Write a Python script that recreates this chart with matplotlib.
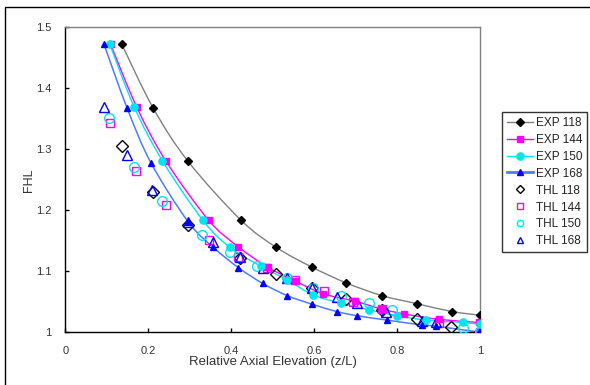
import numpy as np
import matplotlib.pyplot as plt
from matplotlib.path import Path
from matplotlib.patches import PathPatch, Rectangle
from matplotlib.lines import Line2D

plt.rcParams['font.family'] = ['Liberation Sans', 'DejaVu Sans']

# measured FHL data (EXP) and calculated (THL)
exp118_x = [0.136, 0.212, 0.296, 0.423, 0.509, 0.594, 0.677, 0.764, 0.847, 0.932, 1.0]
exp118_y = [1.472, 1.367, 1.280, 1.184, 1.139, 1.107, 1.081, 1.060, 1.047, 1.034, 1.028]

exp144_x = [0.109, 0.172, 0.242, 0.345, 0.417, 0.487, 0.554, 0.622, 0.698, 0.763, 0.817, 0.902, 0.998]
exp144_y = [1.472, 1.369, 1.281, 1.184, 1.140, 1.107, 1.084, 1.063, 1.051, 1.038, 1.030, 1.021, 1.016]

exp150_x = [0.107, 0.166, 0.234, 0.331, 0.397, 0.472, 0.534, 0.598, 0.664, 0.731, 0.800, 0.870, 0.960, 1.0]
exp150_y = [1.472, 1.369, 1.281, 1.184, 1.139, 1.108, 1.086, 1.061, 1.048, 1.037, 1.027, 1.020, 1.016, 1.013]

exp168_x = [0.093, 0.149, 0.206, 0.296, 0.357, 0.417, 0.476, 0.535, 0.595, 0.654, 0.704, 0.775, 0.859, 0.893, 1.0]
exp168_y = [1.472, 1.367, 1.278, 1.181, 1.139, 1.106, 1.080, 1.060, 1.046, 1.034, 1.027, 1.020, 1.012, 1.010, 1.0]

thl118_x = [0.136, 0.212, 0.296, 0.421, 0.509, 0.594, 0.676, 0.763, 0.847, 0.930, 1.0]
thl118_y = [1.306, 1.230, 1.176, 1.121, 1.096, 1.072, 1.055, 1.037, 1.021, 1.008, 1.001]

thl144_x = [0.107, 0.169, 0.242, 0.345, 0.417, 0.487, 0.554, 0.624, 0.693, 0.763, 0.900, 1.0]
thl144_y = [1.343, 1.264, 1.209, 1.152, 1.124, 1.105, 1.085, 1.067, 1.050, 1.038, 1.015, 1.001]

thl150_x = [0.105, 0.166, 0.232, 0.330, 0.397, 0.461, 0.534, 0.598, 0.664, 0.731, 0.787, 0.960, 1.0]
thl150_y = [1.351, 1.271, 1.216, 1.160, 1.131, 1.108, 1.089, 1.072, 1.060, 1.048, 1.037, 1.007, 1.001]

thl168_x = [0.094, 0.149, 0.209, 0.296, 0.357, 0.421, 0.476, 0.535, 0.595, 0.654, 0.703, 0.773, 0.859, 0.893, 1.0]
thl168_y = [1.369, 1.291, 1.233, 1.181, 1.148, 1.123, 1.105, 1.089, 1.073, 1.058, 1.048, 1.034, 1.019, 1.016, 1.001]


def smooth_path(xs, ys):
    # Excel style smoothed line: Catmull-Rom segments as cubic Beziers
    p = np.column_stack([xs, ys])
    verts = [p[0]]
    codes = [Path.MOVETO]
    n = len(p)
    for i in range(n - 1):
        p0 = p[i - 1] if i > 0 else p[i]
        p3 = p[i + 2] if i + 2 < n else p[i + 1]
        c1 = p[i] + (p[i + 1] - p0) / 6
        c2 = p[i + 1] - (p3 - p[i]) / 6
        verts += [c1, c2, p[i + 1]]
        codes += [Path.CURVE4] * 3
    return Path(verts, codes)


fig = plt.figure(figsize=(5.9, 3.85), dpi=100)
ax = fig.add_axes([0.111, 0.137, 0.7026, 0.792])

exp_series = [
    (exp118_x, exp118_y, 'EXP 118', '#808080', 'black', 'D', 4.5),
    (exp144_x, exp144_y, 'EXP 144', '#ff00ff', '#ff00ff', 's', 4.5),
    (exp150_x, exp150_y, 'EXP 150', '#00e5ee', '#00e5ee', 'o', 5.2),
    (exp168_x, exp168_y, 'EXP 168', '#4a7dff', '#0000ff', '^', 5),
]
thl_series = [
    (thl118_x, thl118_y, 'THL 118', 'black', 'D', 6.5),
    (thl144_x, thl144_y, 'THL 144', '#ff00ff', 's', 6),
    (thl150_x, thl150_y, 'THL 150', '#00e5ee', 'o', 7),
    (thl168_x, thl168_y, 'THL 168', '#0000ff', '^', 7),
]

handles = []
for xs, ys, lab, lc, mc, mk, ms in exp_series:
    ax.add_patch(PathPatch(smooth_path(xs, ys), facecolor='none', edgecolor=lc,
                           lw=1.0 if lc != '#4a7dff' else 1.1, zorder=2))
    ax.plot(xs, ys, linestyle='none', marker=mk, ms=ms, color=mc, mec=mc, zorder=4)
    handles.append(Line2D([], [], color=lc, lw=1.0 if lc != '#4a7dff' else 2.0,
                          marker=mk, ms=ms, mfc=mc, mec=mc, label=lab))

for xs, ys, lab, c, mk, ms in thl_series:
    ax.plot(xs, ys, linestyle='none', marker=mk, ms=ms, mfc='none', mec=c, mew=1.0, zorder=3)
    handles.append(Line2D([], [], linestyle='none', marker=mk, ms=4.5, mfc='none',
                          mec=c, mew=1.0, label=lab))

ax.set_xlim(0, 1)
ax.set_ylim(1, 1.5)
ax.set_xticks([0, 0.2, 0.4, 0.6, 0.8, 1])
ax.set_xticklabels(['0', '0.2', '0.4', '0.6', '0.8', '1'])
ax.set_yticks([1, 1.1, 1.2, 1.3, 1.4, 1.5])
ax.set_yticklabels(['1', '1.1', '1.2', '1.3', '1.4', '1.5'])
ax.tick_params(direction='in', length=3, width=1, labelsize=8, colors='black',
               labelcolor='#333333')
ax.tick_params(axis='x', pad=10)
ax.tick_params(axis='y', pad=10)
ax.spines['top'].set_color('#808080')
ax.spines['right'].set_color('#808080')
for s in ax.spines.values():
    s.set_linewidth(1)
ax.set_xlabel('Relative Axial Elevation (z/L)', fontsize=9.5, color='#333333')
ax.xaxis.set_label_coords(0.5, -0.078)
ax.set_ylabel('FHL', fontsize=9, color='#333333')
ax.yaxis.set_label_coords(-0.074, 0.5)

leg = fig.legend(handles=handles, loc='upper left', bbox_to_anchor=(502 / 590, 1 - 112 / 385),
                 fontsize=8.5, frameon=True, fancybox=False, handlelength=2.2,
                 handletextpad=0.25, borderaxespad=0, borderpad=0.4, labelspacing=0.42)
leg.get_frame().set_edgecolor('black')
leg.get_frame().set_linewidth(1)
for t in leg.get_texts():
    t.set_color('#222222')

# outer chart border
fig.patches.append(Rectangle((5 / 590, -0.1), 1.2, 1.1 - 7 / 385, transform=fig.transFigure,
                             fill=False, edgecolor='black', lw=1))

fig.savefig('out.png', dpi=100)
